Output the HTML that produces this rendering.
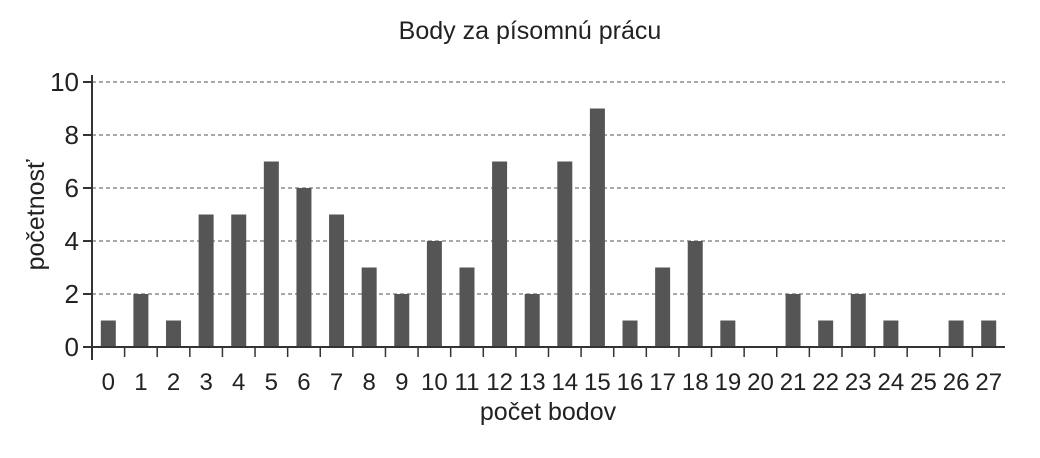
<!DOCTYPE html>
<html><head><meta charset="utf-8"><style>
body{margin:0;background:#fff;}
svg text{font-family:"Liberation Sans",sans-serif;fill:#222;}
</style></head><body>
<svg width="1040" height="453">
<text x="530" y="39" text-anchor="middle" font-size="25">Body za písomnú prácu</text>
<text x="0" y="0" transform="translate(44,215) rotate(-90)" text-anchor="middle" font-size="25">početnosť</text>
<text x="548" y="420" text-anchor="middle" font-size="25">počet bodov</text>
<g id="grid"></g><g id="bars"></g><g id="axes"></g>
</svg>
<script>
const categories=[0,1,2,3,4,5,6,7,8,9,10,11,12,13,14,15,16,17,18,19,20,21,22,23,24,25,26,27];
const counts=[1,2,1,5,5,7,6,5,3,2,4,3,7,2,7,9,1,3,4,1,0,2,1,2,1,0,1,1];
const yTicks=[0,2,4,6,8,10];
const NS='http://www.w3.org/2000/svg';
const x0=92,x1=1005,y0=347,yTop=82;
const slot=(x1-x0)/categories.length;
const xs=i=>x0+slot*(i+0.5);
const ys=v=>y0-(y0-yTop)*v/10;
function mk(t,a,p){const e=document.createElementNS(NS,t);for(const k in a)e.setAttribute(k,a[k]);p.appendChild(e);return e;}
const grid=document.getElementById('grid'),bars=document.getElementById('bars'),axes=document.getElementById('axes');
yTicks.forEach(v=>{
 if(v>0){const g=mk('line',{x1:x0,x2:x1,y1:ys(v),y2:ys(v),stroke:'#555','stroke-width':1,'stroke-dasharray':'4,3'},grid);
 
 }
 const t=mk('line',{x1:x0-9,x2:x0,y1:ys(v),y2:ys(v),stroke:'#333','stroke-width':2},axes);
 
 
 const l=mk('text',{x:x0-13,y:ys(v)+9,'text-anchor':'end','font-size':26},axes);l.textContent=v;
 
 
});
categories.forEach((c,i)=>{
 const b=mk('rect',{x:xs(i)-7.5,y:ys(counts[i]),width:15,height:y0-ys(counts[i]),fill:'#555'},bars);
 
 
 const l=mk('text',{x:xs(i),y:390,'text-anchor':'middle','font-size':24},axes);l.textContent=c;
 
 
 if(i>0){const t=mk('line',{x1:x0+slot*i,x2:x0+slot*i,y1:y0,y2:y0+10,stroke:'#333','stroke-width':1.5},axes);
 
 }
});
const xa=mk('line',{x1:x0-9,x2:x1,y1:y0,y2:y0,stroke:'#333','stroke-width':2},axes);


const ya=mk('line',{x1:x0,x2:x0,y1:75,y2:360,stroke:'#333','stroke-width':2},axes);


</script>
</body></html>
